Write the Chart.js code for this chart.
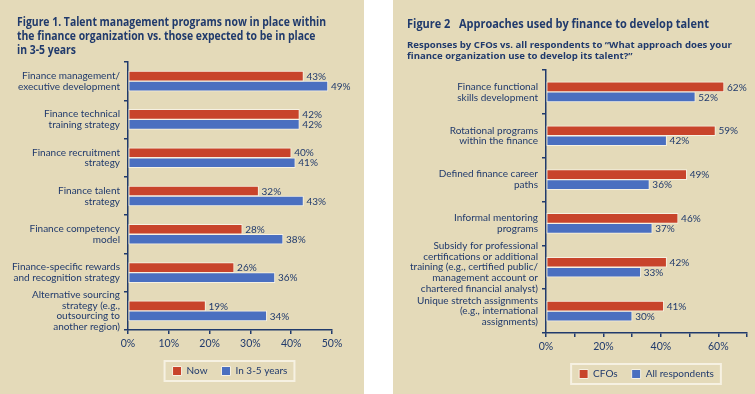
<!DOCTYPE html>
<html>
<head>
<meta charset="utf-8">
<script src="https://cdn.jsdelivr.net/npm/chart.js@4.4.1/dist/chart.umd.min.js"></script>
<style>
  body { margin: 0; background: #ffffff; width: 755px; height: 394px; overflow: hidden; position: relative; }
  .panel { position: absolute; top: 0; height: 394px; background: #e4dab9; }
  #panel1 { left: 0; width: 364px; }
  #panel2 { left: 393px; width: 362px; }
  canvas { position: absolute; left: 0; top: 0; }
  .head { position: absolute; color: #203a6c; font-family: 'Open Sans', 'Noto Sans', sans-serif; font-weight: bold; white-space: pre; transform-origin: 0 0; }
  #title1 { left: 17px; top: 15px; font-size: 12.2px; line-height: 14px; transform: scaleX(0.855); }
  #title2 { left: 14px; top: 17px; font-size: 12px; line-height: 14px; transform: scaleX(0.915); }
  #sub2 { left: 14px; top: 39px; font-size: 9.6px; line-height: 11px; }
</style>
</head>
<body>
<div class="panel" id="panel1">
  <canvas id="chart1" width="364" height="394"></canvas>
  <div class="head" id="title1">Figure 1. Talent management programs now in place within
the finance organization vs. those expected to be in place
in 3-5 years</div>
</div>
<div class="panel" id="panel2">
  <canvas id="chart2" width="362" height="394"></canvas>
  <div class="head" id="title2">Figure 2   Approaches used by finance to develop talent</div>
  <div class="head" id="sub2">Responses by CFOs vs. all respondents to “What approach does your
finance organization use to develop its talent?”</div>
</div>
<script>
// Figure 1 data
const programLabels = [
    ["Finance management/", "executive development"],
    ["Finance technical", "training strategy"],
    ["Finance recruitment", "strategy"],
    ["Finance talent", "strategy"],
    ["Finance competency", "model"],
    ["Finance-specific rewards", "and recognition strategy"],
    ["Alternative sourcing", "strategy (e.g.,", "outsourcing to", "another region)"]
];
const nowValues = [43, 42, 40, 32, 28, 26, 19];
const futureValues = [49, 42, 41, 43, 38, 36, 34];

// Figure 2 data
const approachLabels = [
    ["Finance functional", "skills development"],
    ["Rotational programs", "within the finance"],
    ["Defined finance career", "paths"],
    ["Informal mentoring", "programs"],
    ["Subsidy for professional", "certifications or additional", "training (e.g., certified public/", "management account or", "chartered financial analyst)"],
    ["Unique stretch assignments", "(e.g., international", "assignments)"]
];
const cfoValues = [62, 59, 49, 46, 42, 41];
const allValues = [52, 42, 36, 37, 33, 30];

const navy = "#203a6c";
const red = "#c8442b";
const blue = "#4a6fc0";
const edge = "#f6f1e2";
const family = "Lato, 'Open Sans', sans-serif";

// value labels after each bar
const valueLabels = {
    id: "valueLabels",
    afterDatasetsDraw(chart) {
        const ctx = chart.ctx;
        ctx.save();
        ctx.fillStyle = navy;
        ctx.font = "10px " + family;
        ctx.textBaseline = "middle";
        ctx.textAlign = "left";
        chart.data.datasets.forEach(function(ds, i) {
            chart.getDatasetMeta(i).data.forEach(function(bar, j) {
                ctx.fillText(ds.data[j] + "%", bar.x + 3, bar.y + 0.5);
            });
        });
        ctx.restore();
    }
};

// white frame round the legend
const legendFrame = {
    id: "legendFrame",
    afterDraw(chart) {
        const boxes = chart.legend.legendHitBoxes;
        if (!boxes || !boxes.length) return;
        let l = Infinity, r = -Infinity, t = Infinity, b = -Infinity;
        boxes.forEach(function(h) {
            l = Math.min(l, h.left); r = Math.max(r, h.left + h.width);
            t = Math.min(t, h.top); b = Math.max(b, h.top + h.height);
        });
        const ctx = chart.ctx;
        ctx.save();
        ctx.strokeStyle = edge;
        ctx.lineWidth = 2;
        ctx.strokeRect(l - 8, t - 5, r - l + 15, b - t + 10);
        ctx.restore();
    }
};

function barSet(label, data, colour) {
    return {
        label: label,
        data: data,
        backgroundColor: colour,
        borderColor: edge,
        borderWidth: 1,
        borderSkipped: false,
        barThickness: 10,
        categoryPercentage: 0.68,
        barPercentage: 1
    };
}

function makeChart(id, cfg) {
    return new Chart(document.getElementById(id), {
        type: "bar",
        data: {
            labels: cfg.labels,
            datasets: cfg.datasets
        },
        options: {
            indexAxis: "y",
            responsive: false,
            animation: false,
            layout: { padding: cfg.padding },
            plugins: {
                legend: {
                    position: "bottom",
                    fullSize: false,
                    labels: {
                        color: navy,
                        boxWidth: 9,
                        boxHeight: 9,
                        padding: 14,
                        font: { family: family, size: 10 }
                    }
                },
                tooltip: { enabled: false }
            },
            scales: {
                x: {
                    min: 0,
                    max: cfg.max,
                    ticks: {
                        stepSize: 10,
                        color: navy,
                        padding: 3,
                        font: { family: family, size: 10.5 },
                        callback: function(v) { return v % cfg.labelStep === 0 ? v + "%" : ""; }
                    },
                    grid: { drawOnChartArea: false, tickLength: 4, color: navy, lineWidth: 1.5 },
                    border: { color: navy, width: 1.5 },
                    afterFit: function(s) { s.height = cfg.xHeight; }
                },
                y: {
                    ticks: {
                        color: navy,
                        autoSkip: false,
                        padding: 4,
                        font: { family: family, size: 10, lineHeight: 1.08 }
                    },
                    grid: { offset: true, drawOnChartArea: false, tickLength: 4, color: navy, lineWidth: 1.5 },
                    border: { color: navy, width: 1.5 },
                    afterFit: function(s) { s.width = cfg.yWidth; }
                }
            }
        },
        plugins: [valueLabels, legendFrame]
    });
}

makeChart("chart1", {
    labels: programLabels,
    datasets: [barSet("Now", nowValues, red), barSet("In 3-5 years", futureValues, blue)],
    padding: { left: 4, right: 32, top: 62, bottom: 8 },
    max: 50,
    labelStep: 10,
    xHeight: 22,
    yWidth: 124
});

makeChart("chart2", {
    labels: approachLabels,
    datasets: [barSet("CFOs", cfoValues, red), barSet("All respondents", allValues, blue)],
    padding: { left: 4, right: 8, top: 70, bottom: 5 },
    max: 70,
    labelStep: 20,
    xHeight: 22,
    yWidth: 149
});
</script>
</body>
</html>
